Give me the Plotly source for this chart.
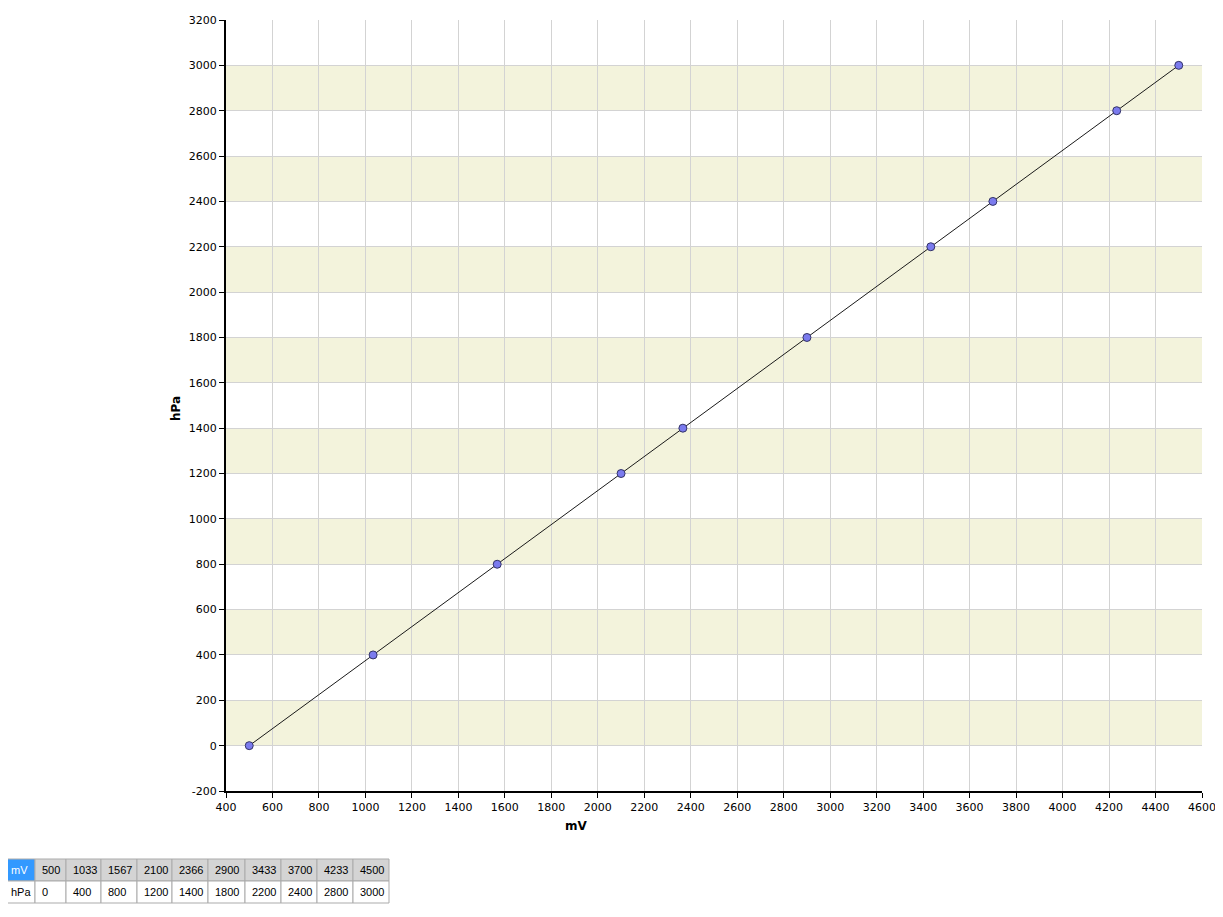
import plotly.graph_objects as go

mv = [500, 1033, 1567, 2100, 2366, 2900, 3433, 3700, 4233, 4500]
hpa = [0, 400, 800, 1200, 1400, 1800, 2200, 2400, 2800, 3000]
x_label = "mV"
y_label = "hPa"
x_range = [400, 4600]
y_range = [-200, 3200]
y_ticks = list(range(-200, 3201, 200))
y_ticktext = [str(v) for v in y_ticks]

OFF = 8  # page body margin
W, H = 1223 - OFF, 917 - OFF
FONT = "Tahoma, DejaVu Sans, sans-serif"
TFONT = "Tahoma, Liberation Sans, sans-serif"

def px_x(p):
    return (p - OFF) / W

def px_y(p):
    return (H - (p - OFF)) / H

fig = go.Figure()

fig.add_trace(go.Scatter(
    x=mv, y=hpa, mode="lines+markers",
    line=dict(color="#1a1a1a", width=1),
    marker=dict(size=8, color="#7B7BEE", line=dict(color="#333366", width=1)),
    showlegend=False, cliponaxis=False,
))

shapes = []
# alternating bands
for lo in range(0, 3000, 400):
    shapes.append(dict(type="rect", xref="x domain", yref="y", x0=0, x1=1,
                       y0=lo, y1=lo + 200, fillcolor="#F3F3DC", line_width=0,
                       layer="below"))

# data table below the chart, built from the data lists
col_w = [32, 31, 35, 36, 35, 36, 37, 36, 36, 36, 36]
tx0, ty0, row_h = 3, 859, 22
rows = [[x_label] + [str(v) for v in mv], [y_label] + [str(v) for v in hpa]]
annotations = []
for r, row in enumerate(rows):
    xl = tx0
    for c, txt in enumerate(row):
        xr = xl + col_w[c]
        yt = ty0 + r * row_h
        yb = yt + row_h
        if r == 0:
            fill = "#3399FF" if c == 0 else "#D4D4D4"
        else:
            fill = "white"
        shapes.append(dict(type="rect", xref="paper", yref="paper",
                           x0=px_x(xl), x1=px_x(xr), y0=px_y(yb), y1=px_y(yt),
                           fillcolor=fill, line=dict(color="#ABABAB", width=1),
                           layer="above"))
        annotations.append(dict(
            text=txt, xref="paper", yref="paper", x=px_x(max(xl + 5, 9)),
            y=px_y((yt + yb) / 2), xanchor="left", yanchor="middle",
            showarrow=False,
            font=dict(family=TFONT, size=11,
                      color="white" if (r == 0 and c == 0) else "black")))
        xl = xr

annotations += [
    dict(text="<b>" + x_label + "</b>", xref="paper", yref="paper",
         x=px_x(576), y=px_y(826), xanchor="center", yanchor="middle",
         showarrow=False, font=dict(family=FONT, size=12, color="black")),
    dict(text="<b>" + y_label + "</b>", xref="paper", yref="paper",
         x=px_x(176), y=px_y(408), xanchor="center", yanchor="middle",
         showarrow=False, textangle=-90,
         font=dict(family=FONT, size=12, color="black")),
]

fig.update_layout(
    width=W, height=H,
    margin=dict(l=0, r=0, t=0, b=0),
    paper_bgcolor="white", plot_bgcolor="white",
    shapes=shapes, annotations=annotations,
    font=dict(family=FONT, size=11, color="black"),
    xaxis=dict(
        domain=[px_x(226), px_x(1202)], range=x_range, dtick=200, tick0=400,
        showgrid=True, gridcolor="#D3D3D3", gridwidth=1, zeroline=False,
        showline=True, linecolor="black", linewidth=2,
        ticks="outside", ticklen=5, tickcolor="black", tickwidth=1,
        tickfont=dict(family=FONT, size=11, color="black"),
        automargin=False, fixedrange=True,
    ),
    yaxis=dict(
        domain=[px_y(791), px_y(20)], range=y_range,
        tickmode="array", tickvals=y_ticks, ticktext=y_ticktext,
        showgrid=True, gridcolor="#D3D3D3", gridwidth=1, zeroline=False,
        showline=True, linecolor="black", linewidth=2,
        ticks="outside", ticklen=5, tickcolor="black", tickwidth=1,
        tickfont=dict(family=FONT, size=11, color="black"),
        automargin=False, fixedrange=True,
    ),
)

fig.write_html("out.html")
